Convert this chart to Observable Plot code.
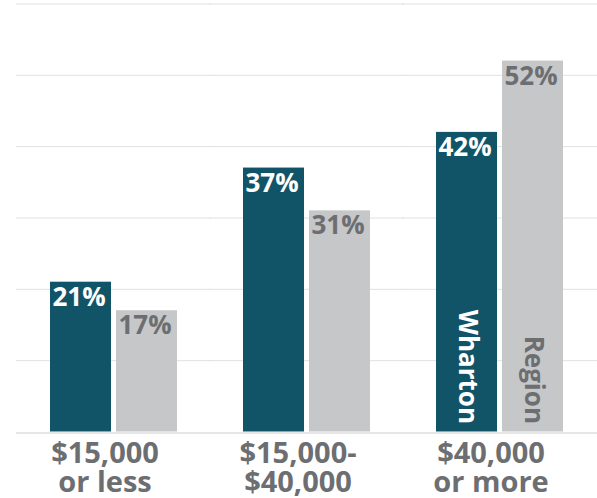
<!DOCTYPE html>
<html>
<head>
<meta charset="utf-8">
<script src="https://cdn.jsdelivr.net/npm/d3@7"></script>
<script src="https://cdn.jsdelivr.net/npm/@observablehq/plot@0.6"></script>
<style>
  html, body { margin: 0; padding: 0; background: #ffffff; }
  #chart svg { display: block; }
</style>
</head>
<body>
<div id="chart"></div>
<script>
const categories = ["$15,000 or less", "$15,000-$40,000", "$40,000 or more"];
const categoryLabels = ["$15,000\nor less", "$15,000-\n$40,000", "$40,000\nor more"];
const series = ["Wharton", "Region"];
const whartonValues = [21, 37, 42];
const regionValues = [17, 31, 52];
const gridValues = [0, 10, 20, 30, 40, 50, 60];

const seriesColors = ["#125467", "#c6c7c9"];
const labelColors = ["#ffffff", "#6d6e71"];
const textGray = "#6d6e71";
const font = "'Open Sans', 'DejaVu Sans', sans-serif";

const data = [];
categories.forEach((c, i) => {
  data.push({category: c, series: "Wharton", value: whartonValues[i]});
  data.push({category: c, series: "Region", value: regionValues[i]});
});
const catLabels = categories.map((c, i) => ({category: c, label: categoryLabels[i]}));
const lastCategory = categories[categories.length - 1];

const chart = Plot.plot({
  width: 597,
  height: 498,
  marginTop: 3.5,
  marginBottom: 66.5,
  marginLeft: 15,
  marginRight: 0,
  style: {fontFamily: font, background: "#ffffff"},
  fx: {domain: categories, paddingInner: 0.344, paddingOuter: 0.176, axis: null, label: null},
  x: {domain: series, paddingInner: 0.08, paddingOuter: 0, axis: null, label: null},
  y: {domain: [0, 60], axis: null, label: null},
  color: {domain: series, range: seriesColors},
  marks: [
    Plot.ruleY(gridValues.filter(v => v > 0), {stroke: "#e1e1e1", strokeWidth: 1, insetLeft: -34, insetRight: -34}),
    Plot.barY(data, {fx: "category", x: "series", y: "value", fill: "series"}),
    Plot.ruleY([0], {stroke: "#e6e6e6", strokeWidth: 2, dy: 1, insetLeft: -34, insetRight: -34}),
    ...series.map((s, i) => Plot.text(data, {
      filter: d => d.series === s,
      fx: "category", x: "series", y: "value",
      text: d => d.value + "%",
      lineAnchor: "top", dy: 5, dx: -2,
      fill: labelColors[i], fontSize: 26, fontWeight: "bold"
    })),
    ...series.map((s, i) => Plot.text(data, {
      filter: d => d.series === s && d.category === lastCategory,
      fx: "category", x: "series", y: 0,
      text: "series",
      rotate: 90, textAnchor: "end", dy: -8,
      fill: labelColors[i], fontSize: 26, fontWeight: "bold"
    })),
    Plot.text(catLabels, {
      fx: "category", text: "label",
      frameAnchor: "bottom", lineAnchor: "top", dy: 10.5, dx: -9,
      lineHeight: 1.0, fill: textGray, fontSize: 29, fontWeight: "bold"
    })
  ]
});
document.getElementById("chart").appendChild(chart);
</script>
</body>
</html>
